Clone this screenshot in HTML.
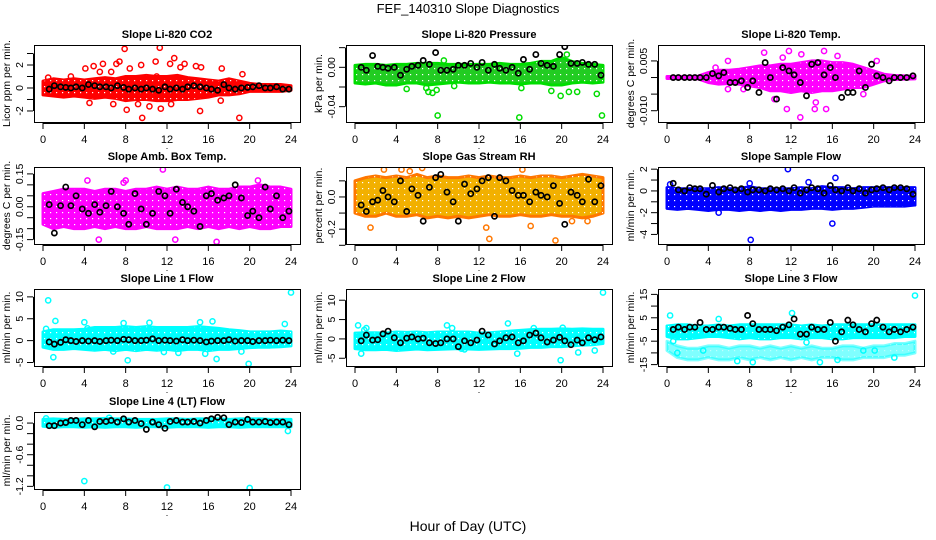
<!DOCTYPE html>
<html><head><meta charset="utf-8"><style>
body{margin:0;background:#fff}
svg{display:block;font-family:"Liberation Sans",sans-serif}
</style></head><body>
<svg id="chart" width="936" height="540" viewBox="0 0 936 540">
<defs>
<pattern id="speckle" width="6" height="6" patternUnits="userSpaceOnUse"><rect x="2" y="2" width="1.2" height="1.2" fill="#fff"/></pattern>
</defs>
<text x="468" y="13" text-anchor="middle" font-size="13">FEF_140310  Slope Diagnostics</text>
<text x="468" y="531" text-anchor="middle" font-size="14">Hour of Day (UTC)</text>
</svg>
<script>
const blackHours=[0.6,1.1,1.7,2.2,2.7,3.2,3.8,4.4,5.0,5.5,6.1,6.6,7.2,7.8,8.3,8.9,9.5,10.0,10.6,11.2,11.8,12.3,12.9,13.5,14.0,14.6,15.2,15.8,16.3,16.9,17.5,18.0,18.6,19.2,19.8,20.3,20.9,21.5,22.0,22.6,23.2,23.8];
const bandHours=[0,1,2,3,4,5,6,7,8,9,10,11,12,13,14,15,16,17,18,19,20,21,22,23,24];
const xTicks=[0,4,8,12,16,20,24];

const co2Black=[-0.1,0.2,0.1,0.05,0,0.1,0,0.3,0.2,0.1,0.1,0,0.2,0.05,-0.1,0,-0.1,0,-0.1,-0.2,0.1,-0.1,0,-0.1,0.1,0.2,0.1,0,-0.1,-0.2,0.3,0,-0.1,0,0.05,0.1,0.2,0,0,0.1,-0.1,-0.1];
const co2Low=[-0.6,-0.7,-0.8,-0.7,-0.8,-0.9,-0.8,-0.9,-1.1,-1.0,-1.0,-1.1,-1.1,-1.0,-1.0,-0.9,-0.8,-0.6,-0.6,-0.5,-0.3,-0.3,-0.3,-0.3,-0.2];
const co2High=[0.6,0.8,0.7,0.8,0.7,0.8,0.9,0.8,1.0,1.0,1.1,1.0,1.0,1.1,0.9,0.8,0.7,0.6,0.8,0.6,0.4,0.3,0.3,0.3,0.2];
const co2OutX=[0.5,2.7,4.1,4.5,4.9,5.5,5.8,6.6,7.1,7.4,7.9,8.1,8.4,9.5,9.6,10.3,10.9,11.0,11.3,11.4,12.3,12.7,13.3,13.7,14.8,15.2,15.3,17.3,17.2,19.0,19.3,6.8,9.2,12.4];
const co2OutY=[0.9,1.0,1.7,-1.3,1.9,1.4,2.1,1.4,2.1,2.3,3.4,-1.9,1.7,2.0,-2.6,-1.6,2.3,1.0,3.5,-1.8,2.1,2.6,1.8,2.1,1.9,-2.0,1.8,1.7,-1.1,-2.6,1.2,-1.4,-1.4,-1.4];

const presBlack=[0,-0.003,0.012,0.001,0,-0.001,0,-0.008,-0.002,0.001,0.002,0.007,0.003,0.015,-0.003,-0.003,-0.002,0.002,0.002,0.004,0,0.005,-0.003,0.003,-0.001,-0.003,0,-0.006,0.008,-0.002,0.013,0.004,0.002,0.001,0.013,0.021,0.004,0.004,0.005,0.003,0.003,-0.008];
const presLow=[-0.016,-0.017,-0.016,-0.018,-0.018,-0.016,-0.016,-0.018,-0.017,-0.016,-0.015,-0.016,-0.016,-0.015,-0.016,-0.016,-0.017,-0.016,-0.016,-0.018,-0.018,-0.016,-0.015,-0.016,-0.015];
const presHigh=[0.002,0.003,0.003,0.002,0.003,0.003,0.004,0.004,0.004,0.003,0.003,0.003,0.003,0.003,0.004,0.003,0.003,0.004,0.006,0.006,0.010,0.006,0.004,0.003,0.002];
const presOutX=[5.0,6.9,7.1,7.5,7.9,8.0,9.6,15.9,16.1,19.0,19.9,20.5,20.7,21.5,23.4,23.9,8.6];
const presOutY=[-0.022,-0.021,-0.025,-0.026,-0.023,-0.049,-0.019,-0.051,-0.021,-0.024,-0.029,0.013,-0.025,-0.025,-0.027,-0.049,0.007];

const tempBlack=[0,0,0,0,0,0,0,0.0012,0.0005,0.0015,-0.0015,-0.0015,-0.001,-0.003,-0.001,-0.0045,0.0045,0,-0.0065,0.003,0.002,0.0008,-0.0015,-0.0055,0.004,0.0045,0.0008,0.003,0,-0.006,-0.0045,-0.0045,0.002,-0.003,0.004,0.0005,0,-0.001,0,0,0,0.0005];
const tempLow=[-0.0003,-0.0003,-0.0003,-0.0004,-0.0015,-0.002,-0.0018,-0.002,-0.0025,-0.003,-0.004,-0.004,-0.0045,-0.004,-0.0045,-0.004,-0.004,-0.0035,-0.003,-0.003,-0.002,-0.001,-0.0006,-0.0005,-0.0004];
const tempHigh=[0.0003,0.0003,0.0003,0.0004,0.0015,0.0022,0.0022,0.0025,0.003,0.0035,0.0035,0.004,0.004,0.0045,0.005,0.005,0.0045,0.0045,0.004,0.003,0.002,0.001,0.0006,0.0005,0.0004];
const tempOutX=[4.7,5.9,5.9,9.4,10.4,11.2,11.6,11.8,12.9,14.3,14.4,15.2,15.4,16.5,19.0,20.3,7.4,13.0];
const tempOutY=[0.003,0.005,-0.0035,0.0075,-0.0065,0.006,-0.0095,0.008,-0.012,-0.0095,-0.0075,0.008,-0.0095,0.0065,-0.005,0.005,-0.0035,0.007];

const ambBlack=[0.01,-0.12,0.005,0.09,0.005,0.05,-0.01,-0.03,0.01,-0.025,0.005,0.07,0,-0.03,-0.08,0.06,-0.01,-0.08,-0.03,0.07,0.05,-0.03,0.08,0.02,0,-0.02,-0.09,0.05,0.06,0.03,0.04,0.05,0.1,0.04,-0.04,-0.02,-0.05,0.09,-0.01,0.05,-0.05,-0.02];
const ambLow=[-0.08,-0.1,-0.09,-0.1,-0.1,-0.09,-0.1,-0.09,-0.1,-0.1,-0.09,-0.1,-0.1,-0.1,-0.09,-0.1,-0.09,-0.1,-0.09,-0.1,-0.09,-0.1,-0.1,-0.09,-0.09];
const ambHigh=[0.06,0.07,0.08,0.08,0.08,0.07,0.08,0.08,0.07,0.08,0.08,0.09,0.08,0.09,0.08,0.08,0.09,0.08,0.08,0.09,0.09,0.1,0.09,0.09,0.08];
const ambOutX=[3.9,5.4,7.5,8.0,9.6,10.3,10.8,11.6,12.1,12.7,12.8,13.8,14.0,16.8,20.8,4.3,7.8];
const ambOutY=[-0.19,-0.15,-0.21,0.12,-0.21,-0.2,-0.2,0.17,-0.22,-0.19,-0.15,-0.19,-0.19,-0.16,0.12,0.12,0.11];

const rhBlack=[-0.05,-0.09,-0.03,-0.02,0.04,0,-0.03,0.1,-0.09,0.05,0.01,-0.15,0.06,0.12,0.14,0.03,-0.03,-0.15,0.08,0.02,0.05,0.1,0.12,-0.12,0.12,0.1,0.04,0.01,0.01,-0.03,0.03,0.01,0,0.07,-0.04,-0.17,0.03,0.01,-0.03,0.11,-0.03,0.07];
const rhLow=[-0.1,-0.12,-0.12,-0.1,-0.12,-0.12,-0.11,-0.13,-0.12,-0.13,-0.12,-0.13,-0.12,-0.11,-0.12,-0.12,-0.11,-0.12,-0.12,-0.11,-0.12,-0.12,-0.13,-0.12,-0.1];
const rhHigh=[0.1,0.12,0.13,0.12,0.13,0.12,0.14,0.12,0.13,0.12,0.12,0.13,0.12,0.13,0.12,0.12,0.13,0.12,0.13,0.13,0.12,0.13,0.14,0.13,0.12];
const rhOutX=[1.5,2.8,4.5,6.5,12.7,13.0,16.2,17.0,19.4,21.0,22.5,5.3];
const rhOutY=[-0.19,0.17,0.17,0.18,-0.19,-0.26,0.17,-0.18,-0.27,-0.15,-0.15,0.16];

const flowBlack=[0.7,0.1,0,0.3,0.2,0.2,-0.3,0.5,-0.1,0.2,0.3,0.1,0.2,-0.1,0.1,0.1,0,0.2,0.1,0.2,0,0.3,-0.2,0.1,0.3,0.2,-0.2,0.5,0.1,0,0.3,0,0.2,-0.2,0.1,0.2,0.3,0.1,0.3,0.3,0.2,-0.3];
const flowLow=[-1.6,-1.7,-1.6,-1.7,-1.8,-1.7,-1.7,-1.8,-1.7,-1.8,-1.7,-1.8,-1.7,-1.7,-1.6,-1.6,-1.7,-1.6,-1.6,-1.5,-1.4,-1.4,-1.4,-1.4,-1.3];
const flowHigh=[0.3,0.2,0.2,0.2,0.2,0.3,0.2,0.2,0.4,0.2,0.2,0.2,0.2,0.3,0.2,0.4,0.3,0.3,0.2,0.3,0.3,0.3,0.3,0.3,0.3];
const flowOutX=[0.3,5.0,8.0,8.1,11.7,16.0,16.3,13.7];
const flowOutY=[0.6,-2.0,0.7,-4.5,2.0,-3.0,1.2,0.8];

const l1Black=[-0.3,-0.8,-0.4,0.2,0,-0.2,0,-0.1,0,-0.2,0,0.1,0,0.3,0.2,0,0,0.1,0.4,0,0.1,0,-0.1,0.2,0,0.1,0,-0.3,-0.1,0,0,0.2,-0.1,0,0,-0.2,0,0,0.1,0,0.1,0];
const l1Low=[-1.5,-2,-2,-1.8,-2,-2.2,-2,-2.3,-2,-2.3,-2,-2.2,-2,-2.3,-2,-2,-2.3,-2,-2,-1.8,-1.6,-1.5,-1.5,-1.4,-1.2];
const l1High=[2,2.5,2.5,2.5,2.6,3,3,3,3.2,3,3.2,3,3,3,3,3.2,3,2.8,2.5,2.3,2,2,2,2.2,2];
const l1OutX=[0.3,0.5,1.0,1.2,4.3,4.0,6.8,7.8,8.2,10.3,13.1,15.2,15.7,16.4,16.8,19.2,19.9,23.4,24.0,11.7];
const l1OutY=[2.7,9.2,-3.8,4.5,2.8,4.2,-2.5,4.0,-4.5,4.1,-2.8,4.2,-3.0,4.4,-4.2,-2.5,-5.3,3.8,11.0,-2.6];

const l2Black=[-0.5,1,-0.3,-0.2,1.3,2,0.3,-1,0.2,0.5,0,0.2,-1,-1.2,-1,0,0,-2,-0.5,-1,-0.3,2,1,-1.3,-0.5,0.3,0.5,-1,-0.5,1,1.5,0.3,-0.8,-0.3,0.4,-0.5,-1.5,-0.3,-1,0.3,-0.2,0.5];
const l2Low=[-2.5,-2.8,-2.8,-2.7,-3,-2.8,-2.6,-2.8,-2.7,-2.6,-2.5,-2.6,-2.7,-2.6,-2.5,-2.5,-2.4,-2.2,-2.2,-2,-2,-1.8,-1.6,-1.5,-1.2];
const l2High=[1.5,1.6,1.6,1.5,1.8,1.7,1.8,1.6,1.8,1.8,1.8,1.8,1.5,1.6,1.8,2,2.2,2.4,2.5,2.5,2.6,2.5,2.6,2.5,2.5];
const l2OutX=[0.3,1.1,0.6,8.9,9.4,10.3,10.6,14.8,15.7,17.3,19.9,20.1,21.6,23.2,24.0,0.9];
const l2OutY=[3.5,2.8,-3.8,3.5,2.8,-2.5,-2.7,4.0,-3.8,2.8,-5.5,2.9,-3.5,-3.0,12.0,2.3];

const l3Black=[0,1,0,1,1,3,0,0,1,1,0.5,0,0,6,2.5,0,0,0,-0.5,1,2,4.5,-2,-2,1,0,0,3,-5,-1,4,2,0,-1,2.5,4,1,-1,0,-1,0,1];
const l3Low=[-3,-4,-4,-3.5,-3,-3,-3.5,-4,-3.5,-4,-4,-3.5,-3.5,-4,-3.5,-3.5,-4,-4,-3.5,-3.5,-3.5,-3.5,-3.5,-3,-3];
const l3High=[1.5,2,2,1.5,1.5,2,1.5,2,2,2,2,2,2,1.5,2,1.5,2,2,2,2,2,2,2,2,2];
const l3LowBandLow=[-9,-12,-13,-13,-12,-13,-13,-12,-13,-12,-13,-12,-13,-12,-13,-12,-12,-13,-13,-12,-12,-12,-11,-11,-10];
const l3LowBandHigh=[-5,-7,-8,-8,-7,-7,-8,-7,-7,-8,-7,-8,-7,-8,-7,-8,-8,-7,-7,-8,-7,-7,-6,-6,-5];
const l3OutX=[0.3,1.0,0.6,5.0,6.8,8.3,12.1,13.5,14.8,16.5,20.1,24.0,3.5,19.0,22.0];
const l3OutY=[6,-10,-5,4.5,-13.5,-14,7,-5.5,-14,-13,-9,14.5,-9,-9,-12];

const l4Black=[-0.05,-0.05,0,0.01,0.05,0.05,-0.03,0.05,-0.07,0.03,0.03,0.05,0.02,0.08,0.02,0.05,-0.01,-0.12,0.02,-0.03,-0.1,0.03,0.05,0.02,0.02,0.03,0,0.05,0.08,0.11,0.1,-0.03,0.02,0.01,0.07,0.02,0.02,0.03,0.01,0.02,0.02,-0.03];
const l4Low=[-0.06,-0.08,-0.07,-0.07,-0.08,-0.07,-0.08,-0.07,-0.07,-0.08,-0.07,-0.07,-0.08,-0.07,-0.07,-0.07,-0.08,-0.07,-0.07,-0.08,-0.07,-0.07,-0.07,-0.07,-0.07];
const l4High=[0.07,0.08,0.07,0.07,0.08,0.08,0.09,0.08,0.08,0.07,0.07,0.07,0.08,0.08,0.07,0.08,0.08,0.08,0.07,0.08,0.08,0.08,0.07,0.07,0.07];
const l4OutX=[0.3,4.0,12.0,20.0,23.7,6.4];
const l4OutY=[0.09,-1.1,-1.22,-1.23,-0.15,0.1];

const NS='http://www.w3.org/2000/svg';
const svg=document.getElementById('chart');
function mk(tag,attrs,parent){const e=document.createElementNS(NS,tag);for(const k in attrs)e.setAttribute(k,attrs[k]);(parent||svg).appendChild(e);return e;}

const panels=[
 {key:'co2',title:'Slope Li-820 CO2',ylab:'Licor ppm per min.',col:0,row:0,ymin:-2.96,ymax:3.74,ticks:[-2,-1,0,1,2,3],labels:{'-2':'-2','0':'0','2':'2'},color:'#ff0000',fill:'#ff0000',black:co2Black,low:co2Low,high:co2High,ox:co2OutX,oy:co2OutY},
 {key:'pressure',title:'Slope Li-820 Pressure',ylab:'kPa per min.',col:1,row:0,ymin:-0.0556,ymax:0.0227,ticks:[-0.04,-0.02,0,0.02],labels:{'-0.04':'-0.04','0':'0.00'},color:'#00dd00',fill:'#22cc22',black:presBlack,low:presLow,high:presHigh,ox:presOutX,oy:presOutY},
 {key:'temp',title:'Slope Li-820 Temp.',ylab:'degrees C per min.',col:2,row:0,ymin:-0.0134,ymax:0.0098,ticks:[-0.01,-0.005,0,0.005],labels:{'-0.01':'-0.010','0.005':'0.005'},color:'#ff00ff',fill:'#ff00ff',black:tempBlack,low:tempLow,high:tempHigh,ox:tempOutX,oy:tempOutY},
 {key:'amb',title:'Slope Amb. Box Temp.',ylab:'degrees C per min.',col:0,row:1,ymin:-0.17,ymax:0.1815,ticks:[-0.15,-0.1,-0.05,0,0.05,0.1,0.15],labels:{'-0.15':'-0.15','0':'0.00','0.15':'0.15'},color:'#ff00ff',fill:'#ff00ff',black:ambBlack,low:ambLow,high:ambHigh,ox:ambOutX,oy:ambOutY},
 {key:'rh',title:'Slope Gas Stream RH',ylab:'percent per min.',col:1,row:1,ymin:-0.292,ymax:0.186,ticks:[-0.3,-0.2,-0.1,0,0.1],labels:{'-0.2':'-0.2','0':'0.0'},color:'#ff7700',fill:'#f2b000',black:rhBlack,low:rhLow,high:rhHigh,ox:rhOutX,oy:rhOutY},
 {key:'sampleflow',title:'Slope Sample Flow',ylab:'ml/min per min.',col:2,row:1,ymin:-4.88,ymax:2.2,ticks:[-4,-3,-2,-1,0,1,2],labels:{'-4':'-4','-2':'-2','0':'0','2':'2'},color:'#0000ff',fill:'#0000ff',black:flowBlack,low:flowLow,high:flowHigh,ox:flowOutX,oy:flowOutY},
 {key:'line1',title:'Slope Line 1 Flow',ylab:'ml/min per min.',col:0,row:2,ymin:-5.8,ymax:11.8,ticks:[-5,0,5,10],labels:{'-5':'-5','0':'0','5':'5','10':'10'},color:'#00ffff',fill:'#00ffff',black:l1Black,low:l1Low,high:l1High,ox:l1OutX,oy:l1OutY},
 {key:'line2',title:'Slope Line 2 Flow',ylab:'ml/min per min.',col:1,row:2,ymin:-7.0,ymax:12.9,ticks:[-5,0,5,10],labels:{'-5':'-5','0':'0','5':'5','10':'10'},color:'#00ffff',fill:'#00ffff',black:l2Black,low:l2Low,high:l2High,ox:l2OutX,oy:l2OutY},
 {key:'line3',title:'Slope Line 3 Flow',ylab:'ml/min per min.',col:2,row:2,ymin:-15.6,ymax:17.3,ticks:[-15,-10,-5,0,5,10,15],labels:{'-15':'-15','-5':'-5','5':'5','15':'15'},color:'#00ffff',fill:'#00ffff',black:l3Black,low:l3Low,high:l3High,ox:l3OutX,oy:l3OutY,low2:l3LowBandLow,high2:l3LowBandHigh},
 {key:'line4',title:'Slope Line 4 (LT) Flow',ylab:'ml/min per min.',col:0,row:3,ymin:-1.25,ymax:0.21,ticks:[-1.2,-1.0,-0.8,-0.6,-0.4,-0.2,0],labels:{'-1.2':'-1.2','-0.6':'-0.6','0':'0.0'},color:'#00ffff',fill:'#00ffff',black:l4Black,low:l4Low,high:l4High,ox:l4OutX,oy:l4OutY},
];
const colL=[34,346,658], rowT=[45,167,289,412], W=266, H=77;

panels.forEach(p=>{
  const L=colL[p.col],T=rowT[p.row];
  const g=mk('g',{});
  
  
  const xs=h=>L+9+h/24*(W-18);
  const ys=v=>T+H-(v-p.ymin)/(p.ymax-p.ymin)*H;
  const clip='clip-'+p.key;
  const cp=mk('clipPath',{id:clip},g);mk('rect',{x:L,y:T,width:W,height:H},cp);
  const data=mk('g',{'clip-path':'url(#'+clip+')'},g);
  const bands=[[p.low,p.high,1]];
  if(p.low2) bands.push([p.low2,p.high2,0.5]);
  bands.forEach(([lo,hi,op])=>{
    let pts=bandHours.map((h,i)=>xs(h)+','+ys(hi[i]));
    pts=pts.concat(bandHours.map((h,i)=>xs(h)+','+ys(lo[i])).reverse());
    const band=mk('polygon',{points:pts.join(' '),fill:p.fill,stroke:p.color,'stroke-width':3,'stroke-linejoin':'round','fill-opacity':op,'stroke-opacity':op},data);
    
    
    const sp=mk('polygon',{points:pts.join(' '),fill:'url(#speckle)','fill-opacity':op},data);
    
    
  });
  p.ox.forEach((h,i)=>{
    const c=mk('circle',{cx:xs(h),cy:ys(p.oy[i]),r:2.6,fill:'none',stroke:p.color,'stroke-width':1.5},data);
    
    
  });
  blackHours.forEach((h,i)=>{
    const c=mk('circle',{cx:xs(h),cy:ys(p.black[i]),r:2.6,fill:'none',stroke:'#000','stroke-width':1.7},data);
    
    
  });
  const box=mk('rect',{x:L+0.5,y:T+0.5,width:W,height:H,fill:'none',stroke:'#000','stroke-width':1},g);
  
  
  const t=mk('text',{x:L+W/2,y:T-7,'text-anchor':'middle','font-size':11,'font-weight':'bold'},g);
  t.textContent=p.title;
  
  
  const xb=T+H+1;
  mk('line',{x1:xs(0),x2:xs(24),y1:xb+0.5,y2:xb+0.5,stroke:'#000'},g);
  xTicks.forEach(v=>{
    mk('line',{x1:xs(v),x2:xs(v),y1:xb,y2:xb+6,stroke:'#000'},g);
    const lt=mk('text',{x:xs(v),y:xb+20,'text-anchor':'middle','font-size':11},g);
    lt.textContent=v;
    
    
  });
  const dot=mk('text',{x:L+W/2,y:xb+26,'text-anchor':'middle','font-size':9},g);dot.textContent='.';
  const ya=L-1;
  const tv=p.ticks.map(ys);
  mk('line',{x1:ya+0.5,x2:ya+0.5,y1:Math.min(...tv),y2:Math.max(...tv),stroke:'#000'},g);
  p.ticks.forEach(v=>{
    const y=ys(v);
    mk('line',{x1:ya-6,x2:ya,y1:y,y2:y,stroke:'#000'},g);
    const key=String(+v.toFixed(4));
    if(p.labels[key]!==undefined){
      const lt=mk('text',{x:0,y:0,'text-anchor':'middle','font-size':10.5,transform:`translate(${ya-10},${y}) rotate(-90)`},g);
      lt.textContent=p.labels[key];
      
      
    }
  });
  const yl=mk('text',{x:0,y:0,'text-anchor':'middle','font-size':10.5,transform:`translate(${L-24},${T+H/2}) rotate(-90)`},g);
  yl.textContent=p.ylab;
  
  
});
</script>
</body></html>
